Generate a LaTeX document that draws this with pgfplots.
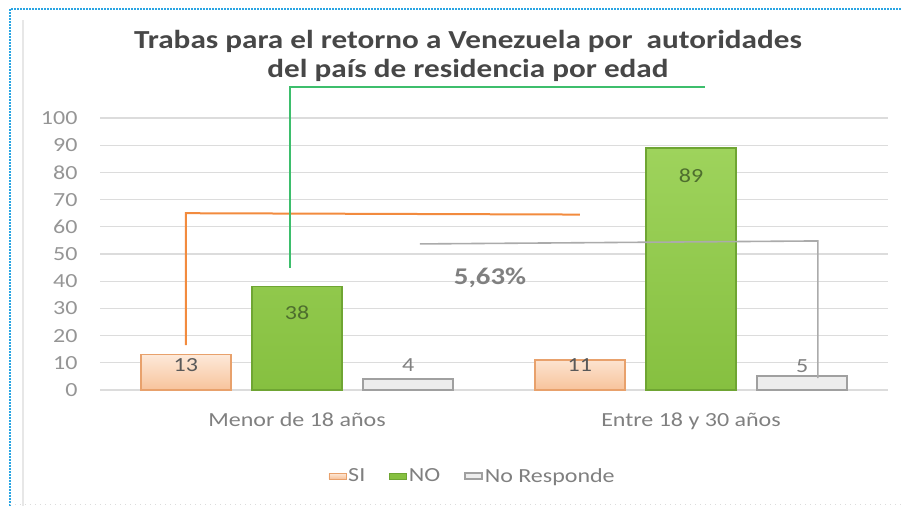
\documentclass[border=0pt]{standalone}
\usepackage{fontspec}
\setmainfont{Carlito}
\newfontfamily\lbl[FakeStretch=1.2]{Carlito}
\usepackage{pgfplots}
\pgfplotsset{compat=1.18}
\definecolor{tickc}{HTML}{959595}
\definecolor{labc}{HTML}{808080}
\definecolor{gridc}{HTML}{DCDCDC}
\definecolor{sitop}{HTML}{FDE9D9}
\definecolor{sibot}{HTML}{F7C39B}
\definecolor{siedge}{HTML}{E8A16C}
\definecolor{notop}{HTML}{9ED35C}
\definecolor{nobot}{HTML}{86C040}
\definecolor{noedge}{HTML}{6FA533}
\definecolor{nrfill}{HTML}{EDEDED}
\definecolor{nredge}{HTML}{A0A0A0}
\definecolor{orline}{HTML}{F28B3E}
\definecolor{grline}{HTML}{3DBE6C}
\definecolor{gyline}{HTML}{ABABAB}
\definecolor{bluec}{HTML}{2AA5E3}
\definecolor{titc}{HTML}{474747}
\definecolor{vdark}{HTML}{595959}
\definecolor{vgreen}{HTML}{4E6E2E}

\pgfplotstableread{
x y
-0.282 13
0.718 11
}\siTab
\pgfplotstableread{
x y
0 38
1 89
}\noTab
\pgfplotstableread{
x y
0.282 4
1.282 5
}\nrTab

\begin{document}
\begin{tikzpicture}
\begin{axis}[
  name=ax, at={(0,0)}, anchor=south west,
  scale only axis, width=788pt, height=272pt,
  xmin=-0.5, xmax=1.5, ymin=0, ymax=100,
  ytick={0,10,...,100}, xtick={0,1},
  xticklabels={Menor de 18 años, Entre 18 y 30 años},
  axis line style={draw=none},
  major tick length=0pt,
  ymajorgrids, grid style={color=gridc, line width=1.3pt},
  yticklabel style={font=\lbl\fontsize{20}{20}\selectfont, text=tickc, xshift=-19pt},
  xticklabel style={font=\lbl\fontsize{20}{20}\selectfont, text=labc, yshift=-19pt},
  /pgf/number format/assume math mode=true,
  clip=false,
  legend columns=3,
  legend style={at={(0.473,-0.316)}, anchor=center, draw=none, fill=none,
    font=\lbl\fontsize{20}{20}\selectfont, text=labc,
    /tikz/every even column/.append style={column sep=22pt}},
  legend cell align=left,
]
% bars
\addplot[ybar, bar width=0.228, bar shift=0pt, draw=siedge, line width=1.4pt,
  top color=sitop, bottom color=sibot, forget plot] table[x=x,y=y] {\siTab};
\addplot[ybar, bar width=0.228, bar shift=0pt, draw=noedge, line width=1.4pt,
  top color=notop, bottom color=nobot, forget plot] table[x=x,y=y] {\noTab};
\addplot[ybar, bar width=0.228, bar shift=0pt, draw=nredge, line width=2pt,
  fill=nrfill, forget plot] table[x=x,y=y] {\nrTab};
% value labels
\addplot[only marks, mark=text, text mark={}, forget plot,
  nodes near coords, point meta=explicit symbolic, nodes near coords align=center,
  every node near coord/.append style={font=\lbl\fontsize{20}{20}\selectfont, text=vdark}]
  coordinates {(-0.282,9.3)[13] (0.718,9.3)[11]};
\addplot[only marks, mark=text, text mark={}, forget plot,
  nodes near coords, point meta=explicit symbolic, nodes near coords align=center,
  every node near coord/.append style={font=\lbl\fontsize{20}{20}\selectfont, text=vgreen}]
  coordinates {(0,28.4)[38] (1,78.6)[89]};
\addplot[only marks, mark=text, text mark={}, forget plot,
  nodes near coords, point meta=explicit symbolic, nodes near coords align=center,
  every node near coord/.append style={font=\lbl\fontsize{20}{20}\selectfont, text=labc}]
  coordinates {(0.282,9.3)[4] (1.282,8.9)[5]};
% overlay lines
\addplot[orline, line width=2pt, mark=none, forget plot] coordinates {(-0.282,16.5) (-0.282,65) (0.718,64.5)};
\addplot[grline, line width=2pt, mark=none, forget plot] coordinates {(-0.018,44.9) (-0.018,111.4) (1.036,111.4)};
\addplot[gyline, line width=1.6pt, mark=none, forget plot] coordinates {(0.312,53.7) (1.322,54.8) (1.322,4.4)};
\node[font=\lbl\fontsize{24}{24}\selectfont\bfseries, text=labc] at (axis cs:0.49,41.2) {5,63\%};
% legend
\addlegendimage{area legend, draw=siedge, top color=sitop, bottom color=sibot}
\addlegendentry{SI}
\addlegendimage{area legend, draw=noedge, fill=nobot}
\addlegendentry{NO}
\addlegendimage{area legend, draw=nredge, fill=nrfill, line width=1.5pt}
\addlegendentry{No Responde}
\end{axis}
% title
\node[align=center, text=titc, font=\lbl\fontsize{26}{29}\selectfont\bfseries]
  at ([xshift=368pt,yshift=334pt]ax.south west)
  {Trabas para el retorno a Venezuela por \ autoridades\\del país de residencia por edad};
% frame
\draw[gridc!70!white, line width=1.5pt] ([xshift=-77pt,yshift=370pt]ax.south west) -- ([xshift=-77pt,yshift=-116pt]ax.south west);
\draw[bluec, line width=2.6pt, dash pattern=on 1.6pt off 1.4pt]
  ([xshift=-90pt,yshift=-116pt]ax.south west) -- ([xshift=-90pt,yshift=381pt]ax.south west) -- ([xshift=801pt,yshift=381pt]ax.south west);
\draw[gridc, line width=1pt, dash pattern=on 1pt off 4pt]
  ([xshift=-90pt,yshift=-114.5pt]ax.south west) -- ([xshift=801pt,yshift=-114.5pt]ax.south west);
\pgfresetboundingbox
\path[use as bounding box] ([xshift=-100pt,yshift=-116pt]ax.south west) rectangle ([xshift=801pt,yshift=390pt]ax.south west);
\end{tikzpicture}
\end{document}
